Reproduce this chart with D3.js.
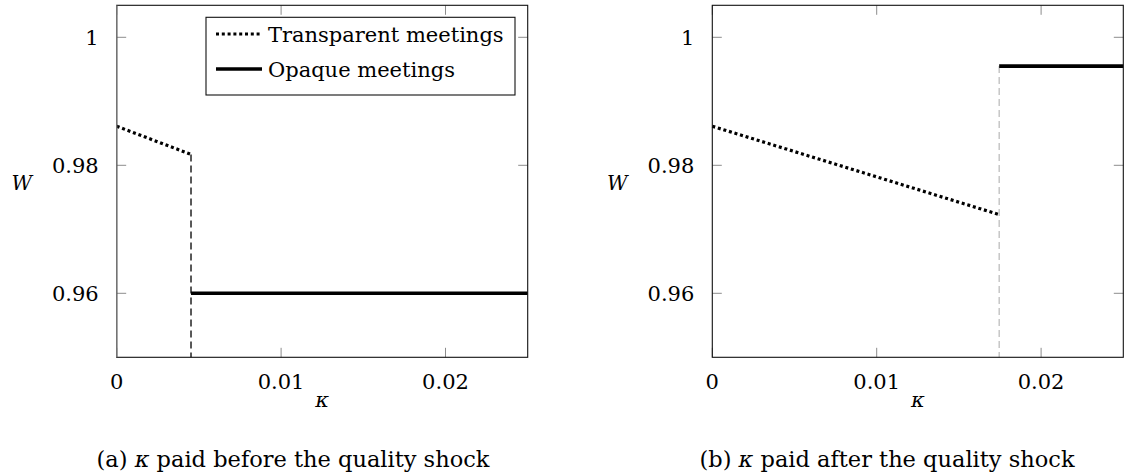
<!DOCTYPE html>
<html>
<head>
<meta charset="utf-8">
<script src="https://cdn.jsdelivr.net/npm/d3@7"></script>
<style>
  body { margin: 0; background: #fff; }
  svg text { font-family: "DejaVu Serif", serif; fill: #000; }
</style>
</head>
<body>
<div id="chart"></div>
<script>
// axis ticks
var kappaTicks = [0, 0.01, 0.02];
var kappaTickLabels = ["0", "0.01", "0.02"];
var wTicks = [0.96, 0.98, 1];
var wTickLabels = ["0.96", "0.98", "1"];

// panel (a): kappa paid before the quality shock
var aTransparentX = [0, 0.00452];
var aTransparentW = [0.9861, 0.9817];
var aOpaqueX = [0.00452, 0.025];
var aOpaqueW = [0.96, 0.96];
var aSwitch = 0.00452;

// panel (b): kappa paid after the quality shock
var bTransparentX = [0, 0.01745];
var bTransparentW = [0.9861, 0.9723];
var bOpaqueX = [0.01745, 0.025];
var bOpaqueW = [0.9955, 0.9955];
var bSwitch = 0.01745;

var width = 1125, height = 476;
var svg = d3.select("#chart").append("svg")
  .attr("width", width)
  .attr("height", height);

function zip(xs, ys) {
  return xs.map(function(x, i) { return [x, ys[i]]; });
}

function drawPanel(left, opts) {
  var pw = 411, top = 5.3, bottom = 357.3;
  var x = d3.scaleLinear().domain([0, 0.025]).range([left, left + pw]);
  var y = d3.scaleLinear().domain([0.95, 1.005]).range([bottom, top]);
  var g = svg.append("g");

  // inner ticks on all four sides (mirrored)
  var tickLen = 9.5;
  var tg = g.append("g").attr("stroke", "#8c8c8c").attr("stroke-width", 1);
  kappaTicks.forEach(function(k) {
    tg.append("line").attr("x1", x(k)).attr("x2", x(k)).attr("y1", bottom).attr("y2", bottom - tickLen);
    tg.append("line").attr("x1", x(k)).attr("x2", x(k)).attr("y1", top).attr("y2", top + tickLen);
  });
  wTicks.forEach(function(w) {
    tg.append("line").attr("x1", left).attr("x2", left + tickLen).attr("y1", y(w)).attr("y2", y(w));
    tg.append("line").attr("x1", left + pw).attr("x2", left + pw - tickLen).attr("y1", y(w)).attr("y2", y(w));
  });

  // lines
  var line = d3.line().x(function(d) { return x(d[0]); }).y(function(d) { return y(d[1]); });

  g.append("line")
    .attr("x1", x(opts.sw)).attr("x2", x(opts.sw))
    .attr("y1", y(opts.dashTop)).attr("y2", y(0.95))
    .attr("stroke", opts.dashColor)
    .attr("stroke-width", 1.3)
    .attr("stroke-dasharray", "7,4");

  g.append("path")
    .datum(zip(opts.tx, opts.tw))
    .attr("d", line)
    .attr("fill", "none")
    .attr("stroke", "#000")
    .attr("stroke-width", 3.2)
    .attr("stroke-dasharray", "3,2.8");

  g.append("path")
    .datum(zip(opts.ox, opts.ow))
    .attr("d", line)
    .attr("fill", "none")
    .attr("stroke", "#000")
    .attr("stroke-width", 3.6);

  // frame
  g.append("rect")
    .attr("x", left).attr("y", top)
    .attr("width", pw).attr("height", bottom - top)
    .attr("fill", "none")
    .attr("stroke", "#111")
    .attr("stroke-width", 1.1);
  if (opts.greyLeft) {
    g.append("line")
      .attr("x1", left).attr("x2", left).attr("y1", top).attr("y2", bottom)
      .attr("stroke", "#777").attr("stroke-width", 1.3);
  }

  // tick labels
  kappaTicks.forEach(function(k, i) {
    g.append("text")
      .attr("x", x(k)).attr("y", 389)
      .attr("text-anchor", "middle")
      .attr("font-size", 21)
      .text(kappaTickLabels[i]);
  });
  wTicks.forEach(function(w, i) {
    g.append("text")
      .attr("x", left - 18).attr("y", y(w))
      .attr("dy", "0.36em")
      .attr("text-anchor", "end")
      .attr("font-size", 21)
      .text(wTickLabels[i]);
  });

  // axis labels
  g.append("text")
    .attr("x", left + pw / 2).attr("y", 401)
    .attr("dy", "0.3em")
    .attr("text-anchor", "middle")
    .attr("font-size", 21)
    .attr("font-style", "italic")
    .text("κ");
  g.append("text")
    .attr("x", left - 95).attr("y", 183)
    .attr("dy", "0.36em")
    .attr("text-anchor", "middle")
    .attr("font-size", 20)
    .attr("font-style", "italic")
    .text("W");

  // caption
  var cap = g.append("text")
    .attr("x", opts.capX).attr("y", 467)
    .attr("text-anchor", "middle")
    .attr("font-size", 22.5);
  cap.append("tspan").text(opts.capTag + " ");
  cap.append("tspan").attr("font-style", "italic").text("κ");
  cap.append("tspan").text(" " + opts.capText);

  return { x: x, y: y, g: g };
}

drawPanel(116.7, {
  tx: aTransparentX, tw: aTransparentW,
  ox: aOpaqueX, ow: aOpaqueW,
  sw: aSwitch, dashTop: aTransparentW[1], dashColor: "#000",
  greyLeft: true,
  capX: 293, capTag: "(a)", capText: "paid before the quality shock"
});

drawPanel(712.3, {
  tx: bTransparentX, tw: bTransparentW,
  ox: bOpaqueX, ow: bOpaqueW,
  sw: bSwitch, dashTop: bOpaqueW[0], dashColor: "#bdbdbd",
  greyLeft: false,
  capX: 887, capTag: "(b)", capText: "paid after the quality shock"
});

// legend in panel (a)
var lg = svg.append("g");
lg.append("rect")
  .attr("x", 206).attr("y", 17.3)
  .attr("width", 309).attr("height", 77.7)
  .attr("fill", "#fff")
  .attr("stroke", "#111")
  .attr("stroke-width", 1.1);
var legendItems = [
  { label: "Transparent meetings", dash: "3,2.8", w: 3.2 },
  { label: "Opaque meetings", dash: null, w: 3.6 }
];
legendItems.forEach(function(d, i) {
  var cy = 34 + i * 35;
  lg.append("line")
    .attr("x1", 216).attr("x2", 262)
    .attr("y1", cy).attr("y2", cy)
    .attr("stroke", "#000")
    .attr("stroke-width", d.w)
    .attr("stroke-dasharray", d.dash);
  lg.append("text")
    .attr("x", 268).attr("y", cy)
    .attr("dy", "0.36em")
    .attr("font-size", 21)
    .text(d.label);
});
</script>
</body>
</html>
